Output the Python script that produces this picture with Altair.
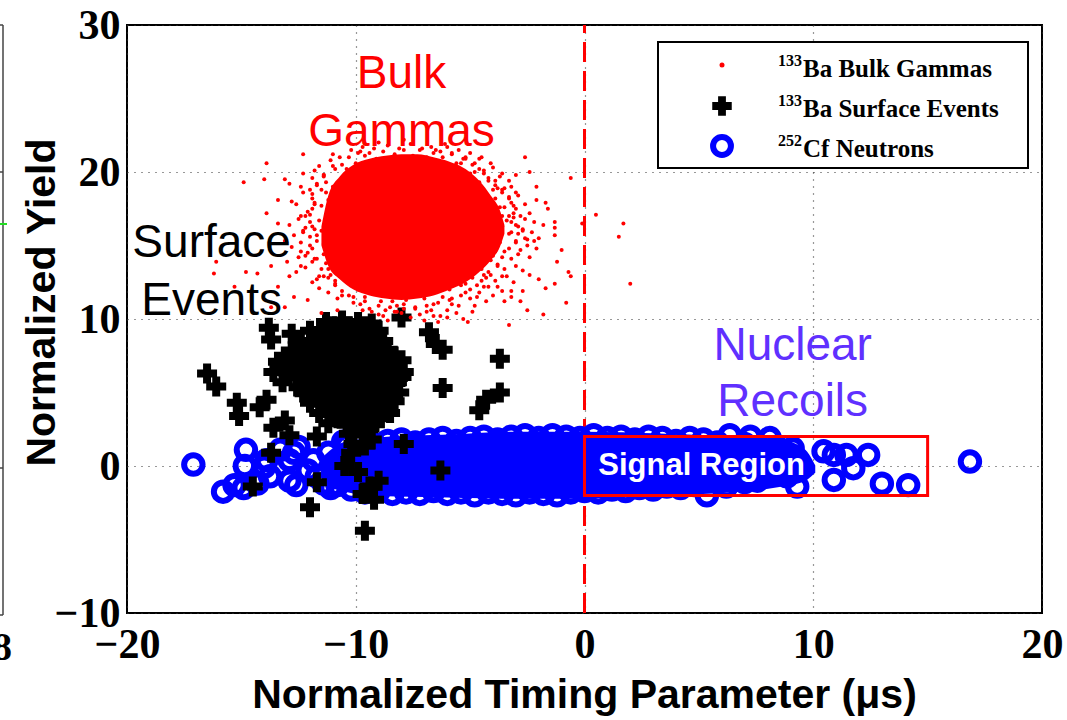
import altair as alt
import pandas as pd

# ---- 133Ba bulk gammas: scattered events -------------------------------
gamma_x = [
    -12.3, -13.9, -14.9, -14.0, -13.1, -12.3, -11.8, -13.9, -13.4, -12.8, -13.4, -16.1, -16.2,
    -14.8, -14.3, -13.7, -13.4, -12.9, -12.7, -13.7, -13.1, -15.3, -12.4, -12.2, -12.4, -12.1,
    -11.5, -11.4, -11.8, -11.7, -12.1,
    -2.6, -2.4, -0.6, 0.5, 1.7, 1.5, 2.0, -0.1, -0.8, -0.7, -0.6, -1.2, -1.0, -1.3, -1.3, -1.3,
    -1.8, -2.5, -3.3, -1.3, -1.7, -2.0, -2.4, -1.6, -1.7, -2.1, -2.1, -1.8, -2.0, -2.1, -2.5,
    -2.7, -3.0, -3.3, -3.7, -4.1, -4.6, -5.4, -2.7, -3.2, -3.6, -3.5, -2.8, -4.3, -4.9, -5.1,
    -4.4, -3.8, -6.4,
    -11.5, -10.8, -9.0, -7.0, -6.0, -8.6,
    -10.0, -9.6, -9.1, -8.8, -8.3, -7.9, -7.5, -7.1, -6.6, -6.2, -5.8, -5.3, -4.9, -9.9, -8.0,
    -6.9, -5.6, -10.4, -4.6,
    -4.2, -3.9, -3.6, -3.3, -3.5, -3.1, -3.4, -2.9, -3.3, -3.0, -3.5, -3.2, -3.8, -3.5, -4.1,
    -4.5, -3.8, -3.2, -2.8, -2.6, -3.7, -3.6, -2.9, -4.0, -4.4,
    -10.3, -9.9, -9.6, -9.2, -8.9, -8.5, -8.2, -7.8, -7.4, -7.0, -6.6, -6.2, -5.8, -5.4, -5.0,
    -4.7, -9.4, -8.0, -6.9, -5.6, -10.6, -10.1, -7.6, -6.3, -8.7,
    -11.4, -11.7, -11.3, -11.9, -11.5, -12.1, -11.6, -12.2, -11.7, -12.0, -11.4, -11.9, -11.2,
    -11.6, -10.9, -12.4, -12.5, -12.3, -10.9, -11.1,
    -11.0, -10.9, -11.2, -11.0, -11.3, -11.1, -11.4, -10.9, -11.3, -10.6, -10.4, -9.9, -9.5,
    -8.8, -8.2, -7.3, -6.6, -5.9, -5.4, -4.9, -4.5, -4.1, -3.9, -3.8, -3.7, -3.6, -3.7, -3.9,
    -4.0, -4.6, -5.0, -5.5, -6.2, -7.0, -7.8, -8.6, -9.3, -9.9, -10.5, -10.8,
    -11.9, -11.6, -11.1, -10.7, -10.2, -9.7, -12.4, -12.0, -11.3, -10.6, -11.8, -12.6, -11.0,
    -9.4, -12.9,
    -6.0, -5.5, -5.0, -4.5, -4.0, -3.6, -3.2, -2.9, -2.6, -4.8, -4.2, -3.5, -6.5, -5.2, -3.0,
    -2.4, -2.2, -2.6, -2.3, -2.5, -2.8, -2.4, -3.0, -2.7, -3.4, -3.1, -2.9, -3.2, -2.2, -3.0,
    -3.9, -4.2, -4.6, -5.0, -5.5, -6.0, -4.0, -3.6, -4.8, -5.9, -5.2, -4.4, -6.6, -5.3, -3.2,
    -11.6, -11.2, -10.8, -10.3, -9.8, -9.3, -8.8, -8.3, -10.9, -11.4, -9.7, -8.4, -7.9, -7.2,
    -11.9,
    -12.7, -12.9, -12.4, -12.8, -12.5, -12.2, -11.8, -11.7, -12.0, -13.1, -13.0, -12.6, -11.5,
    -12.3, -11.9,
    -10.3, -9.8, -9.2, -8.6, -8.1, -7.6, -7.2, -6.7, -6.3, -5.8, -5.2, -4.8, -4.4, -9.0, -7.9,
    -6.1,
    -3.9, -3.6, -3.3, -3.1, -3.3, -3.0, -3.2, -3.0, -3.3, -3.6, -3.8, -4.2, -3.1, -2.7,
    -10.6, -10.1, -9.6, -9.0, -8.5, -7.9, -7.4, -6.9, -6.4, -5.8, -5.2, -4.7, -4.3, -8.2, -6.7,
    -11.0, -11.4, -11.7, -11.9, -11.8, -12.0, -11.9, -12.0, -11.9, -11.7, -11.5, -11.2, -10.9,
    -12.3, -12.2,
]
gamma_y = [
    21.2, 20.6, 19.3, 19.5, 19.5, 19.9, 20.1, 17.2, 16.5, 18.0, 18.1, 13.9, 13.1,
    13.2, 13.1, 13.6, 12.2, 12.9, 11.5, 10.8, 10.8, 12.2, 13.6, 17.0, 15.2, 14.5,
    18.8, 19.7, 16.1, 12.7, 11.3,
    21.0, 20.0, 19.6, 17.1, 16.5, 15.6, 12.4, 16.5, 11.1, 13.2, 12.9, 13.9, 14.7, 16.2, 16.6, 15.7,
    10.3, 10.6, 9.6, 12.4, 12.1, 12.7, 13.0, 17.5, 17.9, 19.0, 18.1, 16.4, 15.5, 14.8, 15.4,
    16.1, 18.6, 19.4, 19.7, 20.6, 20.9, 20.6, 11.9, 11.9, 12.9, 11.2, 11.2, 11.2, 10.5, 9.8,
    12.2, 12.2, 9.8,
    10.4, 10.6, 10.3, 9.9, 10.1, 9.9,
    20.6, 21.1, 20.9, 21.4, 21.2, 21.5, 21.1, 21.6, 21.3, 21.0, 21.2, 20.9, 20.5, 21.3, 21.0,
    21.0, 20.6, 20.2, 20.2,
    19.6, 19.1, 18.6, 18.2, 17.6, 17.2, 16.7, 16.3, 15.8, 15.2, 14.6, 14.1, 13.6, 13.4, 13.0,
    12.6, 18.9, 17.9, 17.0, 15.5, 15.2, 16.3, 14.4, 14.3, 19.9,
    12.6, 12.0, 11.5, 11.8, 11.2, 11.6, 10.9, 11.3, 10.8, 11.4, 11.0, 11.5, 11.0, 11.6, 12.0,
    11.5, 10.7, 10.4, 10.5, 10.4, 11.6, 11.1, 10.1, 10.2, 10.6,
    19.8, 19.1, 18.6, 18.2, 17.7, 17.3, 16.7, 16.2, 15.7, 15.0, 14.4, 13.9, 13.4,
    12.9, 12.4, 14.6, 16.8, 18.6, 20.2, 13.0,
    19.0, 18.9, 18.1, 17.2, 16.3, 15.6, 15.1, 14.3, 13.8, 13.2, 12.8, 12.4, 12.2,
    11.9, 11.7, 11.7, 11.8, 12.0, 12.3, 12.8, 13.4, 14.0, 14.6, 15.3, 15.9, 17.0, 17.6, 18.2,
    18.8, 19.3, 19.9, 20.3, 20.7, 20.9, 20.9, 20.8, 20.5, 20.0, 19.4, 18.4,
    19.6, 20.4, 20.8, 21.0, 21.5, 21.7, 19.0, 18.8, 19.3, 20.5, 17.9, 17.8, 21.2,
    21.3, 19.2,
    21.7, 21.5, 21.3, 21.0, 20.3, 19.9, 19.0, 18.4, 17.8, 20.0, 19.4, 18.9, 21.5, 21.0, 19.8,
    17.2, 16.6, 16.8, 15.9, 15.0, 14.7, 14.2, 13.6, 13.3, 12.9, 12.5, 15.8, 16.6, 15.3, 17.5,
    12.6, 12.2, 11.8, 11.4, 10.9, 10.6, 11.6, 11.9, 10.9, 11.3, 12.4, 13.0, 10.2, 10.0, 11.5,
    12.1, 11.8, 11.4, 11.6, 11.0, 10.5, 10.2, 10.5, 12.6, 12.9, 10.6, 11.2, 10.7, 10.3,
    12.5,
    15.7, 16.4, 17.0, 14.9, 14.2, 13.5, 14.1, 15.3, 16.6, 15.3, 13.9, 13.2, 16.0,
    15.9, 17.5,
    21.0, 21.4, 21.6, 21.8, 21.6, 21.9, 21.5, 21.7, 21.4, 21.3, 20.9, 20.6, 20.1, 22.0, 22.2,
    21.9,
    19.4, 18.8, 18.3, 17.7, 17.0, 16.4, 15.9, 15.3, 14.8, 14.2, 13.7, 13.2, 16.9, 16.0,
    11.9, 11.5, 11.2, 10.9, 10.8, 11.0, 10.7, 10.9, 11.1, 11.4, 11.8, 12.3, 12.8, 10.5, 10.6,
    20.4, 19.8, 19.2, 18.5, 17.8, 17.1, 16.3, 15.6, 14.8, 14.1, 13.4, 12.8, 12.3,
    16.0, 14.3,
]

# dense core of the gamma population: upper and lower edge along x
core_x = [-11.5, -11.2, -10.7, -10.1, -9.4, -8.7, -8.0, -7.3, -6.6, -5.9, -5.2, -4.6, -4.1, -3.7, -3.5]
core_top = [16.3, 18.4, 19.7, 20.5, 20.9, 21.1, 21.2, 21.2, 21.0, 20.7, 20.2, 19.4, 18.4, 17.4, 16.4]
core_bot = [15.0, 13.6, 12.7, 12.0, 11.6, 11.4, 11.3, 11.4, 11.6, 12.0, 12.5, 13.2, 14.0, 14.9, 15.8]

# ---- 133Ba surface events ------------------------------------------------
surf_x = [
    -11.3, -10.6, -9.9, -9.3,
    -12.0, -11.4, -10.8, -10.2, -9.6, -9.0,
    -12.4, -11.8, -11.2, -10.6, -10.0, -9.4, -8.8,
    -12.8, -12.2, -11.6, -11.0, -10.4, -9.8, -9.2, -8.6,
    -13.4, -12.8, -12.2, -11.5, -10.9, -10.3, -9.7, -9.1, -8.5, -8.0,
    -13.6, -12.9, -12.2, -11.4, -10.8, -10.2, -9.6, -9.0, -8.4, -7.9,
    -13.2, -11.8, -11.2, -10.6, -10.0, -9.4, -8.8, -8.2,
    -12.3, -11.6, -11.0, -10.4, -9.8, -9.2, -8.6, -8.1,
    -12.0, -11.3, -10.7, -10.1, -9.5, -8.9, -8.3,
    -11.6, -10.9, -10.3, -9.7, -9.1, -8.5,
    -11.2, -10.4, -9.8, -9.2,
    -10.3, -9.7,
    -10.1, -9.6,
    -11.0, -10.3, -9.6,
    -11.7, -11.1, -10.5, -9.9, -9.3,
    -12.5, -11.9, -11.3, -10.7, -10.1, -9.5, -8.9,
    -13.1, -12.5, -11.9, -11.3, -10.7, -10.1, -9.5, -8.9, -8.3,
    -13.2, -12.5, -11.8, -11.2, -10.6, -10.0, -9.4, -8.8, -8.2,
    -12.6, -12.0, -11.5, -10.9, -10.3, -9.7, -9.1, -8.5, -8.0,
    -12.5, -11.9, -11.3, -10.7, -10.1, -9.5, -8.9, -8.4,
    -11.9, -11.3, -10.7, -10.1, -9.5, -8.9, -8.4,
    -11.3, -10.6, -10.0, -9.4, -8.8,
    -10.8, -10.1, -9.5, -8.9,
    -10.0, -9.4,
    -13.8, -13.7, -12.8, -12.5, -16.5, -16.1, -15.2, -15.1, -14.2, -13.9, -13.6, -13.1, -12.9,
    -13.7, -14.5, -11.7, -12.0, -9.6, -9.2, -9.4, -10.5, -10.2, -9.9, -9.3, -11.7, -8.0, -6.8,
    -6.5, -6.2, -6.2, -7.9, -6.3, -3.7, -3.7, -4.3, -4.6, -9.0, -9.7,
]
surf_y = [
    9.8, 9.9, 9.8, 9.7,
    9.2, 9.1, 9.3, 9.2, 9.1, 9.2,
    8.5, 8.4, 8.6, 8.5, 8.4, 8.6, 8.5,
    7.8, 7.9, 7.7, 7.8, 7.9, 7.7, 7.8, 7.9,
    7.1, 7.0, 7.2, 7.1, 7.0, 7.1, 7.2, 7.0, 7.1, 7.2,
    6.4, 6.5, 6.3, 6.4, 6.5, 6.4, 6.3, 6.4, 6.5, 6.4,
    5.7, 5.6, 5.8, 5.7, 5.6, 5.7, 5.8, 5.7,
    5.0, 5.1, 4.9, 5.0, 5.1, 5.0, 4.9, 5.0,
    4.3, 4.2, 4.4, 4.3, 4.2, 4.3, 4.4,
    3.6, 3.7, 3.5, 3.6, 3.7, 3.6,
    2.9, 2.8, 3.0, 2.9,
    2.2, 2.3,
    1.5, 1.4,
    9.5, 9.5, 9.5,
    8.85, 8.85, 8.85, 8.85, 8.85,
    8.15, 8.15, 8.15, 8.15, 8.15, 8.15, 8.15,
    7.45, 7.45, 7.45, 7.45, 7.45, 7.45, 7.45, 7.45, 7.45,
    6.75, 6.75, 6.75, 6.75, 6.75, 6.75, 6.75, 6.75, 6.75,
    6.05, 6.05, 6.05, 6.05, 6.05, 6.05, 6.05, 6.05, 6.05,
    5.35, 5.35, 5.35, 5.35, 5.35, 5.35, 5.35, 5.35,
    4.65, 4.65, 4.65, 4.65, 4.65, 4.65, 4.65,
    3.95, 3.95, 3.95, 3.95, 3.95,
    3.25, 3.25, 3.25, 3.25,
    2.55, 2.55,
    9.4, 8.6, 9.0, 8.3, 6.3, 5.4, 4.3, 3.4, 4.0, 4.5, 2.6, 3.1, 2.1,
    0.9, -1.4, -1.1, -2.8, -4.4, -2.3, -1.4, 0.0, 0.9, -0.4, 1.8, 2.0, 10.1, 9.1,
    8.3, 7.9, 5.3, 1.5, -0.3, 7.3, 5.0, 4.5, 3.8, -1.0, -1.9,
]

# ---- 252Cf neutrons ------------------------------------------------------
neut_x = [
    # low-timing tail
    -17.1, -14.8, -15.8, -14.85, -14.9, -13.9, -13.75, -12.7, -12.9, -11.85, -11.7, -11.1,
    -12.6, -10.55, -10.75, -14.0, -12.9, -12.1, -11.4, -11.2, -12.5, -13.3, -14.3, -15.3,
    # upper edge of the band
    -10.4, -9.8, -9.2, -8.6, -8.0, -7.4, -6.8, -6.2, -5.6, -5.0, -4.4, -3.8, -3.2, -2.6, -2.0,
    -1.4, -0.8, -0.2, 0.4, 1.0, 1.6, 2.2, 2.8, 3.4, 4.0, 4.6, 5.2, 5.8, 7.0,
    # lower edge of the band
    -10.8, -10.2, -9.6, -9.0, -8.4, -7.8, -7.2, -6.6, -6.0, -5.4, -4.8, -4.2, -3.6, -3.0, -2.4,
    -1.8, -1.2, -0.6, 0.0, 0.6, 1.2, 1.8, 2.4, 3.0, 3.6, 4.2, 4.8, 6.2, 7.0,
    # high-timing tail
    16.85, 14.15, 13.0, 12.4, 11.75, 11.45, 10.9, 10.9, 10.45, 9.3, 9.1, 8.4, 8.1, 7.25, 6.35,
    8.85, 7.55, 5.35, 7.7,
]
neut_y = [
    0.1, 1.1, -1.75, 0.0, -1.5, 0.4, -0.7, 0.9, -1.0, 0.4, -0.7, -1.5,
    -1.3, 1.65, 0.2, -0.05, 0.4, -0.3, -1.2, 0.9, 1.3, 1.1, -1.2, -1.3,
    1.4, 1.6, 1.5, 1.7, 1.8, 1.6, 1.8, 1.9, 1.7, 1.9, 2.0, 1.8, 2.0, 2.1, 1.9,
    2.1, 2.0, 1.9, 2.1, 1.9, 2.0, 1.8, 2.0, 1.9, 1.7, 1.9, 1.8, 1.6, 1.5,
    -1.3, -1.6, -1.8, -1.7, -1.9, -1.8, -1.9, -1.7, -1.9, -1.8, -2.0, -1.8, -1.9, -2.0, -1.8,
    -1.9, -2.0, -1.8, -1.7, -1.8, -1.6, -1.7, -1.5, -1.6, -1.4, -1.5, -1.3, -1.4, -1.1,
    0.3, -1.3, -1.2, 0.75, -0.15, 0.75, -0.95, 0.75, 1.0, -1.4, 1.2, 1.3, 1.9, 2.0, 2.1,
    -0.7, -1.0, -2.0, 0.07,
]

# solid body of the neutron band: upper and lower edge along x
band_x = [-11.4, -10.5, -9.0, -6.0, -3.0, 0.0, 3.0, 6.0, 8.5, 9.6, 10.0]
band_top = [0.5, 1.5, 1.8, 2.0, 2.2, 2.2, 2.1, 1.9, 1.7, 1.0, 0.0]
band_bot = [-1.2, -1.6, -1.9, -2.0, -2.1, -2.1, -1.9, -1.7, -1.3, -0.9, -0.4]

# signal region and annotations
signal_box = {"x": [0.0], "x2": [15.0], "y": [-2.0], "y2": [2.0]}
cut_line = {"x": [0.0], "y": [-10.0], "y2": [30.0]}

notes_text = ["Bulk", "Gammas", "Surface", "Events", "Nuclear", "Recoils"]
notes_x = [-8.0, -8.0, -16.3, -16.3, 9.1, 9.1]
notes_y = [25.7, 21.8, 14.2, 10.3, 7.2, 3.4]
notes_color = ["#ff0000", "#ff0000", "#000000", "#000000", "#6030ff", "#6030ff"]

legend_iso = ["133", "133", "252"]
legend_name = ["Ba Bulk Gammas", "Ba Surface Events", "Cf Neutrons"]

XDOM = [-20, 20]
YDOM = [-10, 30]

x_axis = alt.Axis(
    values=[-20, -10, 0, 10, 20], title="Normalized Timing Parameter (μs)",
    titleX=457, titleY=82, titleBaseline="middle", titleAlign="center",
    labelPadding=11, labelFlush=False,
)
y_axis = alt.Axis(
    values=[-10, 0, 10, 20, 30], title="Normalized Yield",
    titleAngle=270, titleX=-85, titleY=277, titleAlign="center", titleBaseline="middle",
    labelPadding=7, labelFlush=False,
)


def X(field="x"):
    return alt.X(f"{field}:Q", scale=alt.Scale(domain=XDOM, nice=False, zero=False), axis=x_axis)


def Y(field="y"):
    return alt.Y(f"{field}:Q", scale=alt.Scale(domain=YDOM, nice=False, zero=False), axis=y_axis)


gammas = pd.DataFrame({"x": gamma_x, "y": gamma_y})
core = pd.DataFrame({"x": core_x, "y": core_top, "y2": core_bot})
surface = pd.DataFrame({"x": surf_x, "y": surf_y})
neutrons = pd.DataFrame({"x": neut_x, "y": neut_y})
band = pd.DataFrame({"x": band_x, "y": band_top, "y2": band_bot})
notes = pd.DataFrame({"x": notes_x, "y": notes_y, "t": notes_text, "c": notes_color})

cut = alt.Chart(pd.DataFrame(cut_line)).mark_rule(
    color="#ff0000", strokeWidth=3, strokeDash=[20, 9]
).encode(x=X(), y=Y(), y2="y2:Q")

neut_pts = alt.Chart(neutrons).mark_point(
    shape="circle", filled=False, size=340, strokeWidth=6, color="#0000ff", opacity=1
).encode(x=X(), y=Y())

band_fill = alt.Chart(band).mark_area(
    color="#0000ff", stroke="#0000ff", strokeWidth=4, interpolate="monotone", opacity=1
).encode(x=X(), y=Y(), y2="y2:Q")

surf_pts = alt.Chart(surface).mark_point(
    shape="cross", filled=True, size=400, color="#000000", opacity=1
).encode(x=X(), y=Y())

core_fill = alt.Chart(core).mark_area(
    color="#ff0000", interpolate="monotone", opacity=1
).encode(x=X(), y=Y(), y2="y2:Q")

gamma_pts = alt.Chart(gammas).mark_circle(size=16, color="#ff0000", opacity=1).encode(x=X(), y=Y())

box = alt.Chart(pd.DataFrame(signal_box)).mark_rect(
    fill=None, stroke="#ff0000", strokeWidth=3
).encode(x=X(), x2="x2:Q", y=Y(), y2="y2:Q")

box_label = alt.Chart(pd.DataFrame({"x": [0.6], "y": [-0.6], "t": ["Signal Region"]})).mark_text(
    align="left", baseline="alphabetic", font="Liberation Sans", fontWeight="bold",
    fontSize=31, color="white"
).encode(x=X(), y=Y(), text="t:N")

note_marks = alt.Chart(notes).mark_text(
    align="center", baseline="alphabetic", font="Liberation Sans", fontSize=46
).encode(x=X(), y=Y(), text="t:N", color=alt.Color("c:N", scale=None))

# legend panel drawn in pixel space of the plot area
leg_box = alt.Chart(pd.DataFrame({"k": [0]})).mark_rect(
    fill="white", stroke="black", strokeWidth=2
).encode(x=alt.value(531), x2=alt.value(901), y=alt.value(17), y2=alt.value(143))

leg_dot = alt.Chart(pd.DataFrame({"k": [0]})).mark_circle(size=25, color="#ff0000", opacity=1).encode(
    x=alt.value(595), y=alt.value(40))
leg_cross = alt.Chart(pd.DataFrame({"k": [0]})).mark_point(
    shape="cross", filled=True, size=380, color="black", opacity=1).encode(x=alt.value(595), y=alt.value(81))
leg_ring = alt.Chart(pd.DataFrame({"k": [0]})).mark_point(
    shape="circle", filled=False, size=320, strokeWidth=6, color="#0000ff", opacity=1).encode(
    x=alt.value(595), y=alt.value(121))

leg_rows = []
for i, (iso, name) in enumerate(zip(legend_iso, legend_name)):
    base_y = [51.5, 92, 131.5][i]
    leg_rows.append(
        alt.Chart(pd.DataFrame({"t": [iso]})).mark_text(
            align="left", baseline="alphabetic", font="Liberation Serif", fontWeight="bold", fontSize=16
        ).encode(x=alt.value(651), y=alt.value(base_y - 11), text="t:N")
    )
    leg_rows.append(
        alt.Chart(pd.DataFrame({"t": [name]})).mark_text(
            align="left", baseline="alphabetic", font="Liberation Serif", fontWeight="bold", fontSize=25
        ).encode(x=alt.value(676), y=alt.value(base_y), text="t:N")
    )

# edge of the neighbouring panel on the far left
edge = alt.Chart(pd.DataFrame({"k": [0]})).mark_rule(color="#444444", strokeWidth=1.5).encode(
    x=alt.value(-124), y=alt.value(0), y2=alt.value(590))
edge_ticks = alt.Chart(pd.DataFrame({"yy": [0, 147, 443, 590]})).mark_rule(
    color="#444444", strokeWidth=1.5).encode(x=alt.value(-127), x2=alt.value(-124), y=alt.Y("yy:Q", scale=None))
edge_green = alt.Chart(pd.DataFrame({"k": [0]})).mark_rule(color="#22dd22", strokeWidth=2).encode(
    x=alt.value(-127), x2=alt.value(-120), y=alt.value(199))
edge_text = alt.Chart(pd.DataFrame({"t": ["8"]})).mark_text(
    align="right", baseline="alphabetic", font="Liberation Serif", fontWeight="bold", fontSize=40
).encode(x=alt.value(-115), y=alt.value(635), text="t:N")

chart = alt.layer(
    cut, neut_pts, band_fill, surf_pts, core_fill, gamma_pts, box, box_label, note_marks,
    leg_box, leg_dot, leg_cross, leg_ring, *leg_rows, edge, edge_ticks, edge_green, edge_text,
).properties(
    width=915, height=588, autosize="none",
    padding={"left": 127, "top": 25, "right": 25, "bottom": 107},
).configure_view(
    stroke="black", strokeWidth=2
).configure_axis(
    grid=True, gridDash=[1, 6], gridColor="#333333", gridWidth=1.2,
    domain=False, ticks=False,
    labelFont="Liberation Serif", labelFontWeight="bold", labelFontSize=42, labelColor="black",
    titleFont="Liberation Sans", titleFontWeight="bold", titleFontSize=41, titleColor="black",
)

chart.save("out.html", embed_options={"renderer": "svg", "actions": False})
